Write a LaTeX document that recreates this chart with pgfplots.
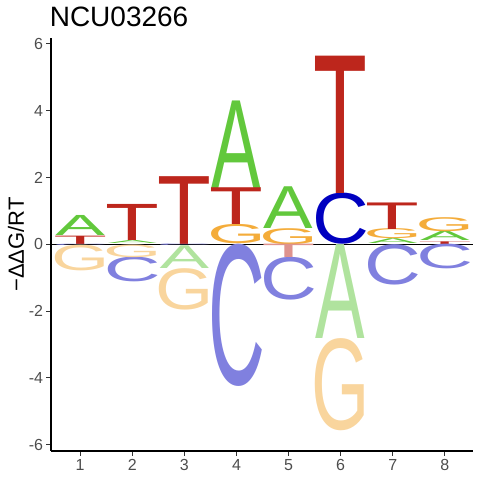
\documentclass[border=0pt]{standalone}
\usepackage{fontspec}
\setmainfont{Liberation Sans}
\newfontfamily\logofont{Liberation Sans}
\usepackage{graphicx}
\usepackage{pgfplots}
\pgfplotsset{compat=1.18}
\usepackage{pgfplotstable}

\definecolor{cA}{HTML}{62C83C}
\definecolor{cC}{HTML}{0000C0}
\definecolor{cG}{HTML}{F4AC3A}
\definecolor{cT}{HTML}{BD261C}
\definecolor{tickgray}{HTML}{4D4D4D}

% letters above zero: position, bottom, top
\pgfplotstableread{
x lo hi
1 0.25 0.85
2 0.01 0.10
4 1.68 4.30
5 0.48 1.73
7 0.01 0.155
8 0.10 0.38
}\Aup
\pgfplotstableread{
x lo hi
6 0.00 1.53
}\Cup
\pgfplotstableread{
x lo hi
4 0.00 0.58
5 0.00 0.48
7 0.155 0.455
8 0.38 0.80
}\Gup
\pgfplotstableread{
x lo hi
1 0.00 0.25
2 0.10 1.18
3 0.00 2.03
4 0.58 1.68
6 1.53 5.64
7 0.455 1.25
8 0.00 0.08
}\Tup
% letters below zero
\pgfplotstableread{
x lo hi
3 -0.73 -0.05
6 -2.81 0.00
}\Adn
\pgfplotstableread{
x lo hi
1 -0.04 0.00
2 -1.14 -0.40
3 -0.05 0.00
4 -4.26 0.00
5 -1.68 -0.40
7 -1.21 0.00
8 -0.74 0.00
}\Cdn
\pgfplotstableread{
x lo hi
1 -0.81 -0.04
2 -0.40 -0.02
3 -1.97 -0.73
6 -5.57 -2.81
}\Gdn
\pgfplotstableread{
x lo hi
5 -0.40 0.00
}\Tdn

\pgfplotsset{
  letter/.style n args={3}{%
    draw=none, mark=none, forget plot,
    visualization depends on={\thisrow{lo}\as\vlo},
    visualization depends on={\thisrow{hi}\as\vhi},
    nodes near coords={\pgfmathsetlengthmacro\hl{((\vhi)-(\vlo))*33.4bp}\resizebox*{#2}{\hl}{\color{#3}\logofont #1}},
    nodes near coords align={above},
    every node near coord/.append style={anchor=south, inner sep=0pt, outer sep=0pt},
  },
}

\begin{document}
\begin{tikzpicture}
\begin{axis}[
  name=ax,
  x=52.1bp, y=33.4bp,
  xmin=0.44, xmax=8.54,
  ymin=-6.19, ymax=6.18,
  axis x line*=bottom, axis y line*=left,
  axis line style={black, line width=1.1bp},
  xtick={1,2,...,8},
  ytick={-6,-4,...,6},
  tick align=outside,
  major tick length=4.5bp,
  tick style={color=black!80, line width=0.8bp},
  /pgf/number format/assume math mode=true,
  ticklabel style={font=\fontsize{16bp}{18bp}\selectfont, text=tickgray},
  title={NCU03266},
  title style={at={(axis description cs:0,1)}, anchor=base west, xshift=-1.4bp, yshift=5.3bp, inner sep=0pt, font=\fontsize{28bp}{32bp}\selectfont},
  ylabel={−ΔΔG/RT},
  ylabel style={at={(axis description cs:-0.0829,0.5)}, anchor=center, inner sep=0pt, font=\fontsize{22bp}{26bp}\selectfont},
]
\addplot[letter={A}{49.5bp}{cA}] table[x=x, y=lo] {\Aup};
\addplot[letter={C}{56.8bp}{cC}] table[x=x, y=lo] {\Cup};
\addplot[letter={G}{58.3bp}{cG}] table[x=x, y=lo] {\Gup};
\addplot[letter={T}{53.8bp}{cT}] table[x=x, y=lo] {\Tup};
\addplot[letter={A}{49.5bp}{cA!50}] table[x=x, y=lo] {\Adn};
\addplot[letter={C}{56.8bp}{cC!50}] table[x=x, y=lo] {\Cdn};
\addplot[letter={G}{58.3bp}{cG!50}] table[x=x, y=lo] {\Gdn};
\addplot[letter={T}{53.8bp}{cT!50}] table[x=x, y=lo] {\Tdn};
\addplot[black, line width=0.8bp, forget plot] coordinates {(0.44,0) (8.54,0)};
\end{axis}
\pgfresetboundingbox
\path (ax.south west) ++(-51bp,-29bp) rectangle ++(480bp,480bp);
\end{tikzpicture}
\end{document}
